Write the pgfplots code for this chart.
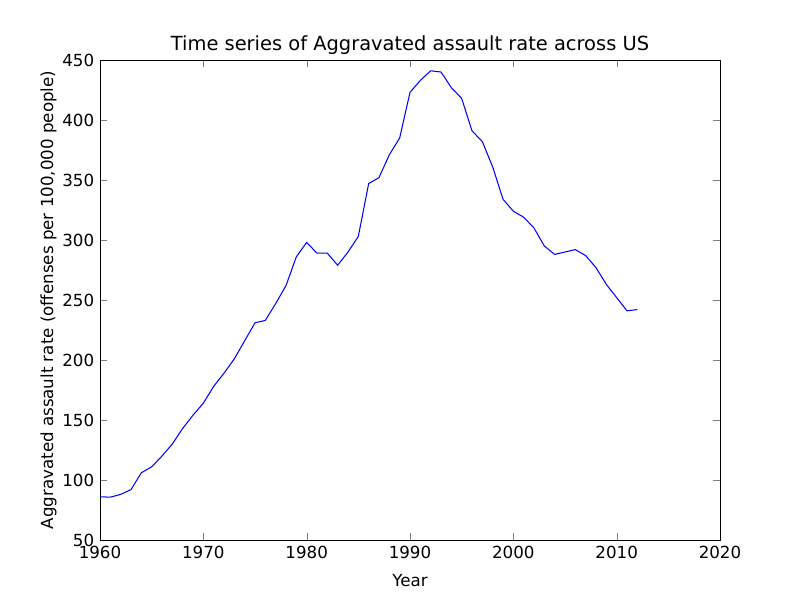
\documentclass[border=0pt]{standalone}
\usepackage{pgfplots}
\pgfplotsset{compat=1.18}
\usepackage{fontspec}
\setmainfont{DejaVu Sans}
\begin{document}
\fontsize{12pt}{14pt}\selectfont
\begin{tikzpicture}
\useasboundingbox (-72pt,-43.2pt) rectangle (504pt,388.8pt);
\begin{axis}[at={(0,0)},anchor=south west,scale only axis,
width=446.4pt,height=345.6pt,
xmin=1960,xmax=2020,ymin=50,ymax=450,
xtick={1960,1970,...,2020},ytick={50,100,...,450},
tick align=inside, xtick pos=both, ytick pos=both,
major tick length=5pt,
/pgf/number format/assume math mode=true,
/pgf/number format/set thousands separator={},
tick label style={font=\fontsize{12pt}{14pt}\selectfont},
title={Time series of Aggravated assault rate across US},
title style={font=\fontsize{14pt}{16pt}\selectfont, yshift=-6pt},
xlabel={Year},
ylabel={Aggravated assault rate (offenses per 100,000 people)},
xlabel style={yshift=-3pt},
ylabel style={yshift=-4pt},
]
\addplot[blue, no marks, line width=0.75pt] coordinates {
(1960,86)(1961,85.7)(1962,88)(1963,92)(1964,106)(1965,111)(1966,120)(1967,130)
(1968,143)(1969,154)(1970,164)(1971,178)(1972,189)(1973,201)(1974,216)(1975,231)
(1976,233)(1977,247)(1978,262)(1979,286)(1980,298)(1981,289)(1982,289)(1983,279)
(1984,290)(1985,303)(1986,347)(1987,352)(1988,371)(1989,385)(1990,423)(1991,433)
(1992,441)(1993,440)(1994,427)(1995,418)(1996,391)(1997,382)(1998,361)(1999,334)
(2000,324)(2001,319)(2002,310)(2003,295)(2004,288)(2005,290)(2006,292)(2007,287)
(2008,277)(2009,263)(2010,252)(2011,241)(2012,242)};
\end{axis}
\end{tikzpicture}
\end{document}
